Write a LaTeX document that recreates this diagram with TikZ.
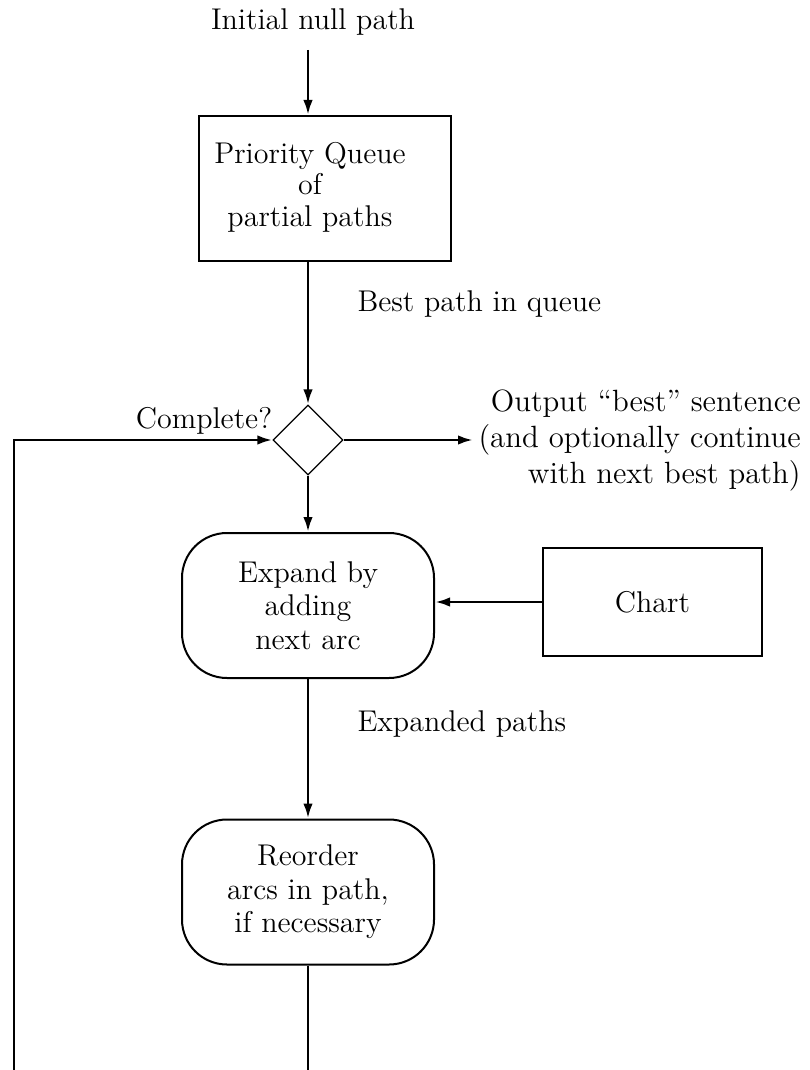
\documentclass[tikz,border=0pt]{standalone}
\usetikzlibrary{shapes.geometric,arrows.meta}
\begin{document}
\begin{tikzpicture}[x=0.4pt,y=-0.4pt,
  font=\fontsize{12}{13.4}\selectfont,
  conn/.style={line width=1.1pt, -{Latex[length=6pt,width=3.8pt]}},
  plain/.style={line width=1.1pt},
  sqbox/.style={draw, line width=0.8pt, minimum width=100.8pt, minimum height=58pt, inner sep=0pt, align=center},
  rbox/.style={sqbox, rounded corners=18pt},
  lbl/.style={inner sep=0pt, align=center}
]
\useasboundingbox (0,0) rectangle (809,1070);
% nodes
\node[lbl] (init) at (313,22) {Initial null path};
\coordinate (initend) at (308,50);
\node[sqbox] (pq) at (325,188.5) {};
\node[lbl, font=\fontsize{12}{12.6}\selectfont] (pqt) at (310,187) {Priority Queue\\of\\partial paths};
\node[lbl, anchor=west] (bp) at (357,304) {Best path in queue};
\node[diamond, draw, line width=0.5pt, minimum width=28pt, minimum height=28pt, inner sep=0pt] (dec) at (308,440) {};
\node[lbl] (comp) at (204,421) {Complete?};
\node[lbl, anchor=west, align=right, inner sep=2pt, font=\fontsize{12.3}{14.4}\selectfont] (out) at (473,441) {Output ``best'' sentence\\(and optionally continue\\with next best path)};
\node[rbox] (exp) at (308,605.5) {Expand by\\adding\\next arc};
\node[sqbox, minimum width=87.6pt, minimum height=43.2pt] (chart) at (652.5,602) {Chart};
\node[lbl, anchor=west] (ep) at (357,724) {Expanded paths};
\node[rbox] (reo) at (308,892) {Reorder\\arcs in path,\\if necessary};
\coordinate (bot) at (308,1070);
\coordinate (botl) at (14,1070);
\coordinate (turn) at (14,440);
% connectors
\draw[conn] (initend) -- (initend |- pq.north);
\draw[conn] (pq.south -| dec) -- (dec.north);
\draw[conn] (dec.south) -- (exp.north);
\draw[conn] (chart.west) -- (chart.west -| exp.east);
\draw[conn] (exp.south) -- (reo.north);
\draw[plain] (reo.south) -- (bot);
\draw[conn] (botl) -- (turn) -- (dec.west);
\draw[conn] (dec.east) -- (dec.east -| out.west);
\end{tikzpicture}
\end{document}
